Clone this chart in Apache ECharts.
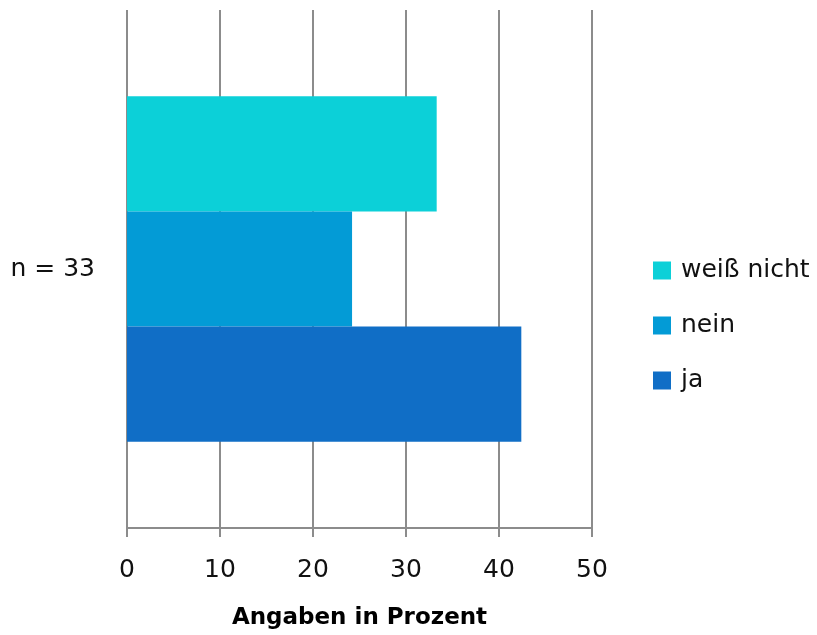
<!DOCTYPE html>
<html>
<head>
<meta charset="utf-8">
<script src="https://cdn.jsdelivr.net/npm/echarts@6/dist/echarts.min.js"></script>
<style>
  html, body { margin: 0; padding: 0; background: #ffffff; }
  #chart { width: 817px; height: 635px; }
</style>
</head>
<body>
<div id="chart"></div>
<script>
// Survey answers, share in percent (n = 33)
const categories = ['n = 33'];
const seriesNames = ['weiß nicht', 'nein', 'ja'];
const weissNichtValues = [33.3];
const neinValues = [24.2];
const jaValues = [42.4];
const xTicks = [0, 10, 20, 30, 40, 50];
const axisTitle = 'Angaben in Prozent';

const colors = { 'ja': '#106EC6', 'nein': '#039BD6', 'weiß nicht': '#0CD0D8' };
const valuesByName = { 'ja': jaValues, 'nein': neinValues, 'weiß nicht': weissNichtValues };
const fontFamily = '"DejaVu Sans", Verdana, sans-serif';

const chart = echarts.init(document.getElementById('chart'), null, { renderer: 'canvas' });

chart.setOption({
  animation: false,
  backgroundColor: '#ffffff',
  textStyle: { fontFamily: fontFamily },
  grid: { left: 127, right: 225, top: 10, bottom: 105, containLabel: false },
  legend: {
    orient: 'vertical',
    left: 648,
    top: 253,
    itemWidth: 18,
    itemHeight: 18,
    itemGap: 30,
    icon: 'rect',
    data: ['weiß nicht', 'nein', 'ja'],
    textStyle: { fontSize: 25, lineHeight: 25, color: '#111111', fontFamily: fontFamily, padding: [0, 0, 0, 5] }
  },
  xAxis: {
    type: 'value',
    min: xTicks[0],
    max: xTicks[xTicks.length - 1],
    interval: 10,
    name: axisTitle,
    nameLocation: 'middle',
    nameGap: 79,
    nameTextStyle: { fontSize: 23, fontWeight: 'bold', color: '#000000', fontFamily: fontFamily },
    axisLine: { show: true, lineStyle: { color: '#8c8c8c', width: 2 } },
    axisTick: { show: true, length: 9, inside: false, lineStyle: { color: '#8c8c8c', width: 2 } },
    axisLabel: { fontSize: 25, color: '#111111', margin: 30, fontFamily: fontFamily },
    splitLine: { show: true, lineStyle: { color: '#8c8c8c', width: 2 } }
  },
  yAxis: {
    type: 'category',
    data: categories,
    axisLine: { show: false },
    axisTick: { show: false },
    axisLabel: { fontSize: 25, color: '#111111', margin: 32, fontFamily: fontFamily }
  },
  series: seriesNames.map(function (name) {
    return {
      name: name,
      type: 'bar',
      data: valuesByName[name],
      barGap: '0%',
      barCategoryGap: '33.3%',
      itemStyle: { color: colors[name] },
      emphasis: { disabled: true }
    };
  })
});
</script>
</body>
</html>
